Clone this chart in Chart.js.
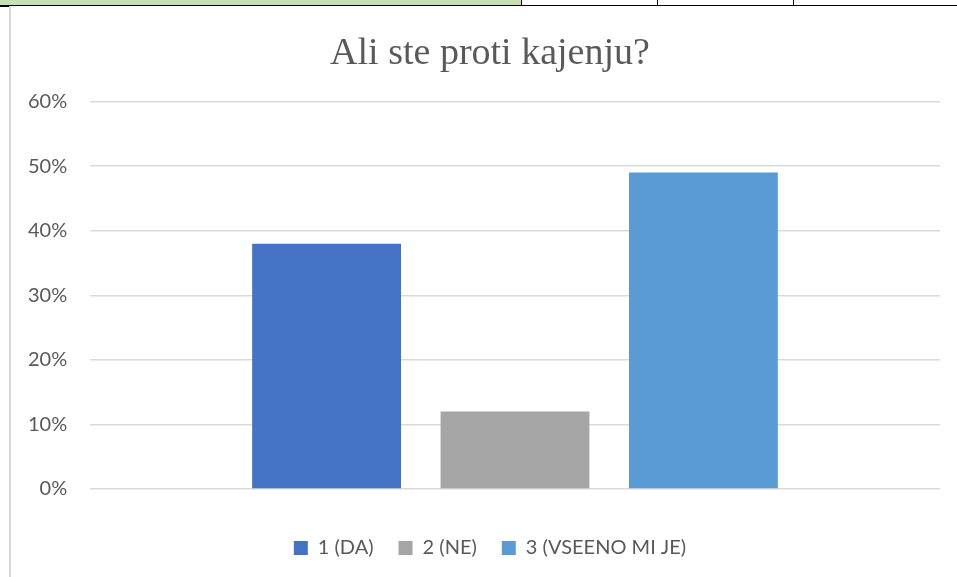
<!DOCTYPE html>
<html>
<head>
<meta charset="utf-8">
<script src="https://cdn.jsdelivr.net/npm/chart.js@4.4.0/dist/chart.umd.min.js"></script>
<style>
  body { margin: 0; background: #fff; width: 957px; height: 577px; overflow: hidden; position: relative; }
  .cell-green { position: absolute; left: 0; top: 0; width: 521px; height: 5px; background: #C6E0B4; }
  .cell-line { position: absolute; left: 0; top: 5px; width: 957px; height: 1px; background: #000; }
  .cell-corner { position: absolute; left: 0; top: 5px; width: 9px; height: 2px; background: #000; }
  .cell-sep { position: absolute; top: 0; width: 1px; height: 5px; background: #000; }
  .frame-left { position: absolute; left: 9px; top: 6px; width: 2px; height: 571px; background: #D9D9D9; }
  #wrap { position: absolute; left: 11px; top: 7px; width: 946px; height: 570px; }
</style>
</head>
<body>
<div class="cell-green"></div>
<div class="cell-line"></div>
<div class="cell-corner"></div>
<div class="cell-sep" style="left:521px"></div>
<div class="cell-sep" style="left:657px"></div>
<div class="cell-sep" style="left:793px"></div>
<div class="frame-left"></div>
<div id="wrap"><canvas id="chart"></canvas></div>
<script>
var chartTitle = "Ali ste proti kajenju?";
var categories = [""];
var seriesNames = ["1 (DA)", "2 (NE)", "3 (VSEENO MI JE)"];
var seriesValues = [[0.38], [0.12], [0.49]];
var seriesColors = ["#4472C4", "#A5A5A5", "#5B9BD5"];

var textColor = "#595959";

var datasets = [];
for (var i = 0; i < seriesNames.length; i++) {
	datasets.push({
		label : seriesNames[i],
		data : seriesValues[i],
		backgroundColor : seriesColors[i],
		borderWidth : 0,
		categoryPercentage : 0.665,
		barPercentage : 0.79
	});
}

var ctx = document.getElementById("chart");

var chart = new Chart(ctx, {
	type : "bar",
	data : {
		labels : categories,
		datasets : datasets
	},
	options : {
		responsive : true,
		maintainAspectRatio : false,
		animation : false,
		layout : {
			padding : { left : 29, right : 17, top : 0, bottom : 9 }
		},
		plugins : {
			title : {
				display : true,
				text : chartTitle,
				color : textColor,
				font : { family : "'Liberation Serif', serif", size : 38, weight : "normal" },
				padding : { top : 24, bottom : 25 }
			},
			legend : {
				display : true,
				position : "bottom",
				labels : {
					color : textColor,
					font : { family : "Lato, sans-serif", size : 20 },
					boxWidth : 14,
					boxHeight : 14,
					padding : 25
				}
			},
			tooltip : { enabled : false }
		},
		scales : {
			x : {
				display : true,
				grid : { display : false },
				border : { display : false },
				ticks : { display : false },
				afterFit : function(scale) { scale.height = 24; }
			},
			y : {
				min : 0,
				max : 0.6,
				grid : { color : "#D9D9D9", lineWidth : 1.5, drawTicks : false },
				border : { display : false },
				// labels sit left of the axis box, so draw them mirrored (no clipping)
				afterFit : function(scale) { scale.width = 50; },
				ticks : {
					stepSize : 0.1,
					mirror : true,
					crossAlign : "far",
					padding : -62,
					color : textColor,
					font : { family : "Lato, sans-serif", size : 20 },
					callback : function(v) { return Math.round(v * 100) + "%"; }
				}
			}
		}
	}
});
</script>
</body>
</html>
